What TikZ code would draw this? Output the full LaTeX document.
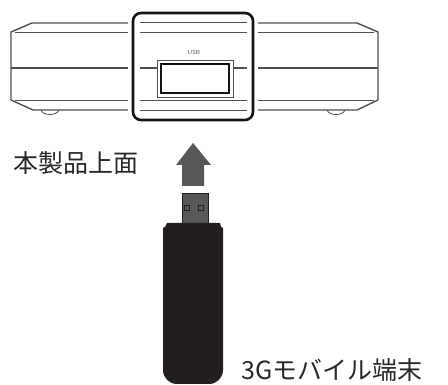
\documentclass[tikz,border=0pt]{standalone}
\usepackage{fontspec}
\usepackage{tikz}
\newfontfamily\jpfont{Noto Sans CJK JP}
\definecolor{caseColor}{RGB}{80, 80, 80}
\definecolor{frameColor}{RGB}{20, 20, 20}
\definecolor{arrowColor}{RGB}{88, 88, 90}
\definecolor{stickColor}{RGB}{35, 31, 32}
\definecolor{textColor}{RGB}{40, 40, 40}

\begin{document}
\begin{tikzpicture}[x=1pt, y=-1pt, font=\jpfont]
	\useasboundingbox (0,0) rectangle (448,385);
	\tikzset{caseline/.style={caseColor, line width=1.4pt, line join=round},
		thinline/.style={caseColor, line width=0.8pt}}
	
	% Router body (left and right halves beside the port frame)
	\draw[caseline] (128,23) -- (32,23) -- (11,32) -- (11,100) -- (33,110) -- (128,110);
	\draw[caseline] (258,23) -- (357,23) -- (378,32) -- (378,100) -- (357,110) -- (258,110);
	\foreach \y in {32,100} {
		\draw[thinline] (15,\y) -- (128,\y);
		\draw[thinline] (258,\y) -- (374,\y);
	}
	\draw[caseline] (11,68) -- (128,68);
	\draw[caseline] (258,68) -- (378,68);
	
	% Rubber feet
	\draw[thinline] (41,110) .. controls (43,116) and (57,116) .. (59,110);
	\draw[thinline] (327,110) .. controls (329,116) and (343,116) .. (345,110);
	
	% Highlighted frame around the USB port
	\draw[frameColor, line width=2.6pt, rounded corners=8pt] (133,13) rectangle (253,120);
	\foreach \y in {22,32,100,110}
		\draw[thinline] (140,\y) -- (247,\y);
	\draw[caseline] (140,68) -- (157,68);
	\draw[caseline] (233,68) -- (247,68);
	
	% USB port
	\draw[thinline] (157,60) rectangle (233,97);
	\draw[frameColor, line width=1.5pt] (161,64) rectangle (229,93);
	\node[font=\sffamily\fontsize{6}{7}\selectfont, text=caseColor] (usbLabel) at (194,52) {USB};
	
	% Insert direction arrow
	\fill[arrowColor] (182,186) -- (182,165) -- (176,165) -- (193,143) -- (211,165)
		-- (204,165) -- (204,186) -- cycle;
	
	% 3G stick with plug
	\draw[fill=arrowColor, draw=stickColor, line width=0.8pt] (182,193) rectangle (208,223);
	\draw[draw=stickColor, line width=0.8pt] (184,205) rectangle (189,210);
	\draw[draw=stickColor, line width=0.8pt] (198,205) rectangle (203,210);
	\fill[stickColor] (167,223) -- (220,223) -- (221,227) -- (223,228) -- (223,370)
		arc[start angle=0, end angle=90, radius=14] -- (177,384)
		arc[start angle=90, end angle=180, radius=14] -- (163,228) -- (165,227) -- cycle;
	
	% Labels
	\node[anchor=west, text=textColor, font=\jpfont\fontsize{25}{25}\selectfont] (topLabel) at (10,163) {本製品上面};
	\node[anchor=west, text=textColor, font=\jpfont\fontsize{25}{25}\selectfont] (stickLabel) at (238,370) {3Gモバイル端末};
\end{tikzpicture}
\end{document}
